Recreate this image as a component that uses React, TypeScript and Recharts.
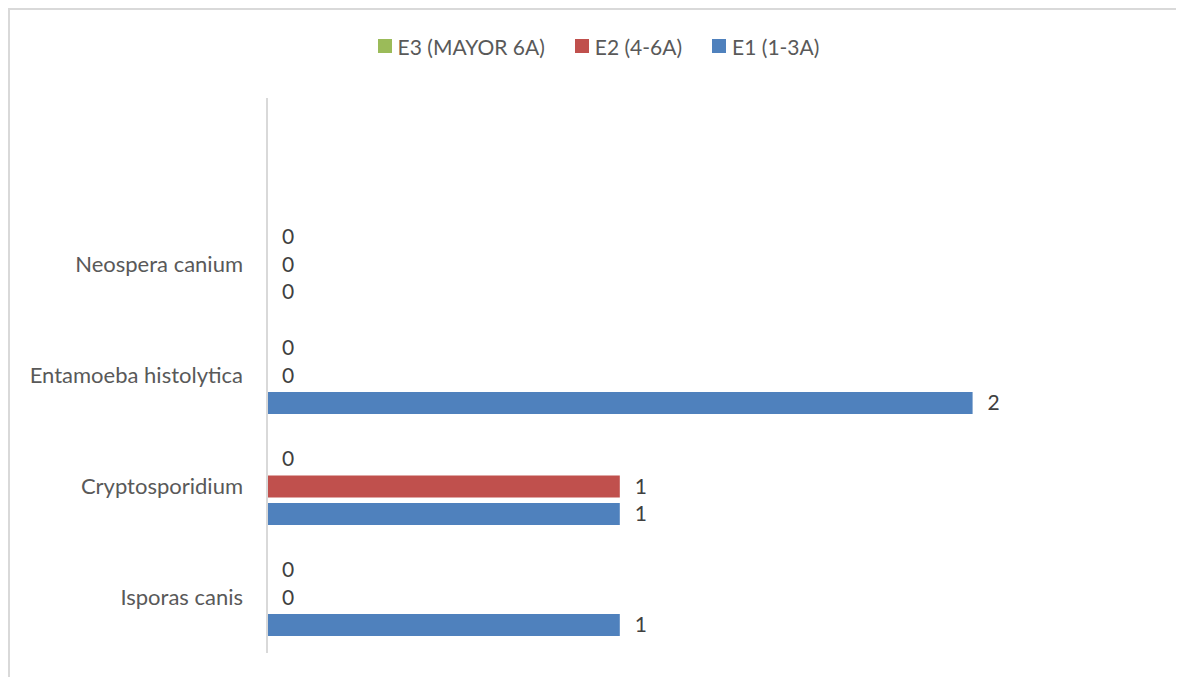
import React from "react";
import { BarChart, Bar, XAxis, YAxis, Legend, LabelList } from "recharts";

const categories = ["", "Neospera canium", "Entamoeba histolytica", "Cryptosporidium", "Isporas canis"];
const e3Values: (number | null)[] = [null, 0, 0, 0, 0];
const e2Values: (number | null)[] = [null, 0, 0, 1, 0];
const e1Values: (number | null)[] = [null, 0, 2, 1, 1];
const seriesNames = ["E3 (MAYOR 6A)", "E2 (4-6A)", "E1 (1-3A)"];
const seriesColors = ["#9bbb59", "#c0504d", "#4f81bd"];

const data = categories.map((name, i) => ({
  name,
  e3: e3Values[i],
  e2: e2Values[i],
  e1: e1Values[i],
}));

const FONT = "Lato, 'Liberation Sans', sans-serif";

const LegendContent = (props: any) => {
  const raw = props.payload || [];
  const payload = [...raw].sort(
    (a: any, b: any) => seriesNames.indexOf(a.value) - seriesNames.indexOf(b.value)
  );
  return (
    <div style={{ height: 64 }}>
      <div
        style={{
          display: "flex",
          justifyContent: "center",
          alignItems: "center",
          height: 24,
          fontFamily: FONT,
          fontSize: 21,
          color: "#595959",
          paddingLeft: 38,
        }}
      >
        {payload.map((p: any, i: number) => (
          <div key={i} style={{ display: "flex", alignItems: "center", marginRight: i < payload.length - 1 ? 30 : 0 }}>
            <span style={{ width: 14, height: 14, background: p.color, display: "inline-block", marginRight: 6 }} />
            <span>{p.value}</span>
          </div>
        ))}
      </div>
    </div>
  );
};

const ValueLabel = (props: any) => {
  const { x, y, width, height, value } = props;
  if (value === null || value === undefined) return null;
  return (
    <text
      x={x + width + 15}
      y={y + height / 2}
      dy="0.355em"
      fill="#404040"
      fontSize={21}
      fontFamily={FONT}
      textAnchor="start"
    >
      {value}
    </text>
  );
};

const minSize = (value: any) => (value === 0 ? 0.01 : 0);

export default function App() {
  return (
    <div style={{ width: 1169, height: 680, border: "2px solid #d9d9d9", background: "#fff" }}>
      <BarChart
        width={1169}
        height={670}
        data={data}
        layout="vertical"
        margin={{ top: 24, right: 30, bottom: 27, left: 0 }}
        barSize={22}
        barGap={5.5}
      >
        <XAxis type="number" domain={[0, 2.5]} hide />
        <YAxis
          type="category"
          dataKey="name"
          width={257}
          axisLine={{ stroke: "#d9d9d9", strokeWidth: 2 }}
          tickLine={false}
          tickMargin={18}
          tick={{ fill: "#595959", fontSize: 22, fontFamily: FONT }}
        />
        <Legend verticalAlign="top" content={<LegendContent />} />
        <Bar dataKey="e3" name={seriesNames[0]} fill={seriesColors[0]} minPointSize={minSize} isAnimationActive={false}>
          <LabelList dataKey="e3" content={<ValueLabel />} />
        </Bar>
        <Bar dataKey="e2" name={seriesNames[1]} fill={seriesColors[1]} minPointSize={minSize} isAnimationActive={false}>
          <LabelList dataKey="e2" content={<ValueLabel />} />
        </Bar>
        <Bar dataKey="e1" name={seriesNames[2]} fill={seriesColors[2]} minPointSize={minSize} isAnimationActive={false}>
          <LabelList dataKey="e1" content={<ValueLabel />} />
        </Bar>
      </BarChart>
    </div>
  );
}
